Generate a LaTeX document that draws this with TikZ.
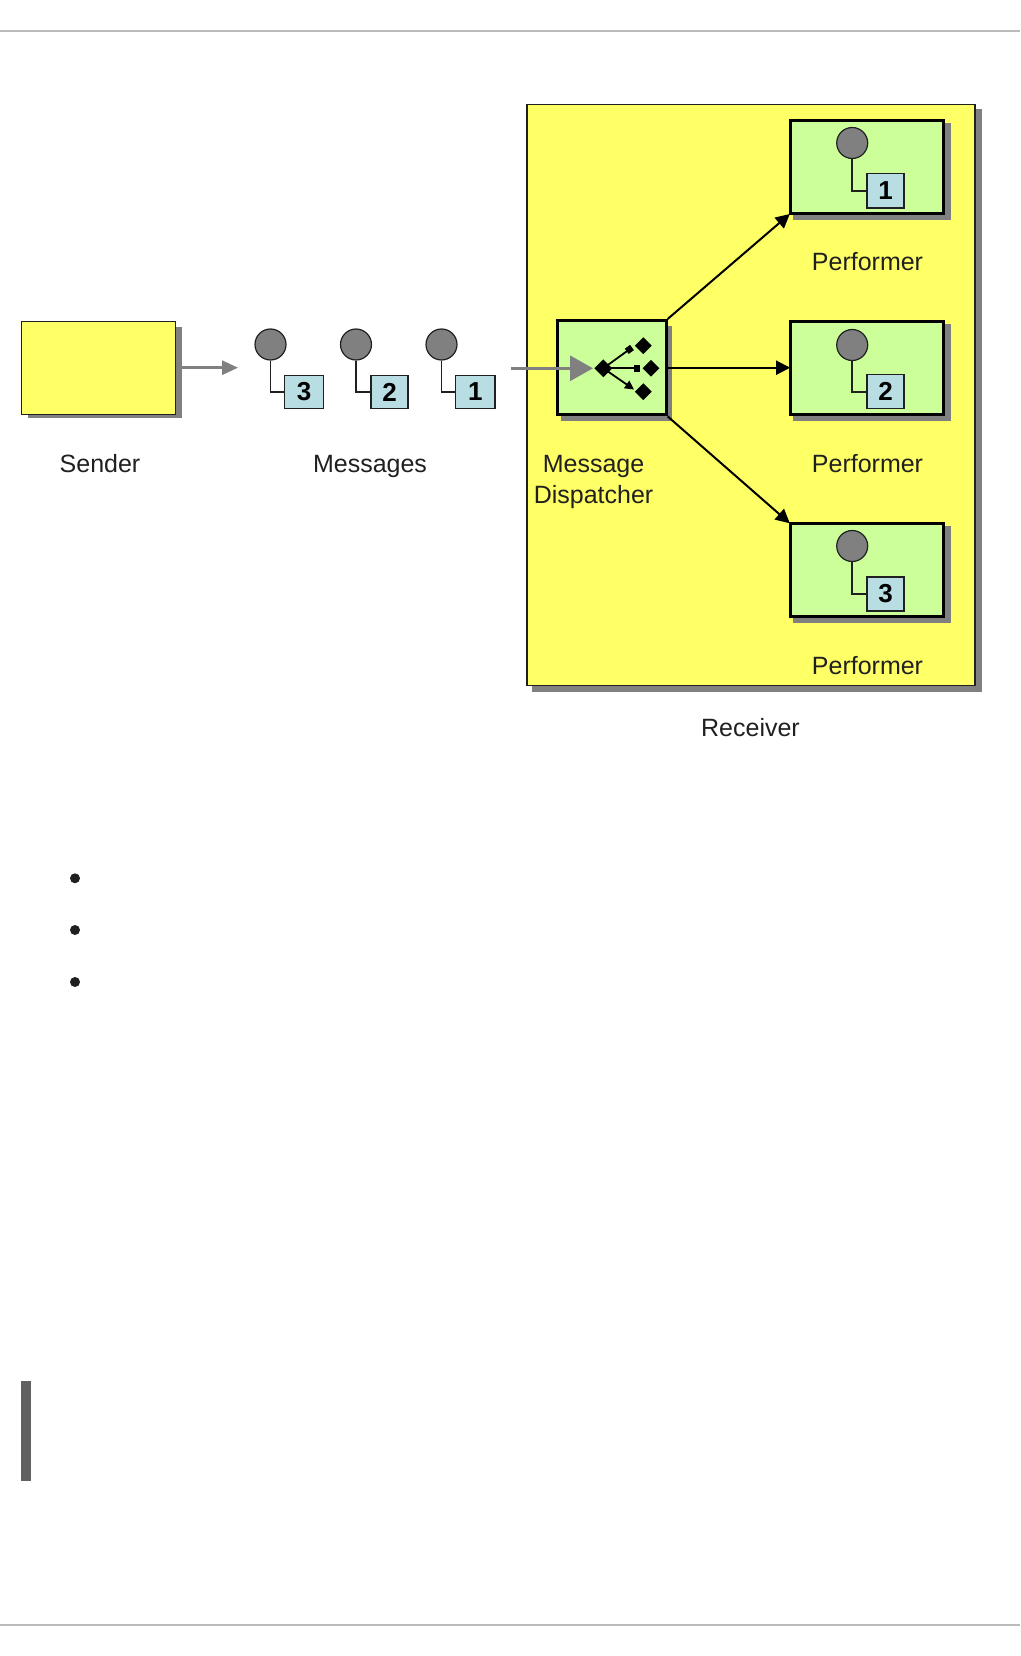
\documentclass[tikz,border=0pt]{standalone}
\usepackage{fontspec}
\setmainfont{Liberation Sans}
\usetikzlibrary{arrows.meta,shapes.geometric}
\definecolor{yel}{HTML}{FFFF66}
\definecolor{grn}{HTML}{CCFF99}
\definecolor{tag}{HTML}{B8DDE2}
\definecolor{shad}{HTML}{808080}
\definecolor{ink}{HTML}{202020}
\definecolor{rulegray}{HTML}{BBBBBB}
\definecolor{barcol}{HTML}{606060}
\tikzset{
  lab/.style={font=\fontsize{25}{30.6}\selectfont,text=ink,inner sep=0pt,align=center},
  shadowbox/.style={fill=shad,draw=none},
  msgcirc/.style={circle,draw=ink,line width=1.2pt,fill=shad,minimum size=31pt,inner sep=0pt},
  msgtag/.style={draw=ink,line width=1.4pt,fill=tag,inner sep=0pt,font=\fontsize{26}{26}\selectfont\bfseries,text=black},
  msgwire/.style={draw=ink,line width=1.7pt},
  flow/.style={draw=black,line width=2pt,shorten >=-1.5pt,-{Triangle[length=14pt,width=14pt]}},
  grayflow/.style={draw=shad,line width=3pt},
  dia/.style={diamond,fill=black,inner sep=0pt},
  rule/.style={draw=rulegray,line width=2pt},
}
\begin{document}
\begin{tikzpicture}[x=1pt,y=-1pt]
\useasboundingbox (0,0) rectangle (1020,1656);
\fill[white] (0,0) rectangle (1020,1656);
% page rules
\coordinate (tl) at (0,31); \coordinate (tr) at (1020,31);
\coordinate (bl) at (0,1624.7); \coordinate (br) at (1020,1624.7);
\draw[rule] (tl) -- (tr);
\draw[rule] (bl) -- (br);
% sender
\fill[shadowbox] (28,327) rectangle (182,418);
\node[draw=ink,line width=1.8pt,fill=yel,minimum width=154pt,minimum height=93pt,inner sep=0pt] (sender) at (98.5,368) {};
\node[lab,anchor=base] (senderlab) at (100,472.7) {Sender};
% messages
\foreach \n/\cx/\bl/\br/\t in {a/270.5/284.5/323.5/3,b/356/371/408/2,c/441.5/455.5/495/1}{
  \node[msgcirc] (c\n) at (\cx,344.5) {};
  \node[msgtag,minimum width=\br pt-\bl pt,minimum height=33.5pt] (t\n) at ({(\bl+\br)/2},392) {\t};
  \draw[msgwire] (c\n.south) |- (t\n.west);
}
\node[lab,anchor=base] (msglab) at (370,472.7) {Messages};
% receiver
\fill[shadowbox] (532,109) rectangle (982,692);
\node[draw=ink,line width=1.8pt,fill=yel,minimum width=448pt,minimum height=581pt,inner sep=0pt] (recv) at (751,395) {};
\node[lab,anchor=base] (recvlab) at (750.5,736) {Receiver};
% performers
\foreach \t/\cy/\cc/\tc/\ly in {1/167/143/190.8/270.7,2/367.7/345/391.7/472.7,3/570.3/546/594/674.3}{
  \fill[shadowbox] (793,{\cy-44}) rectangle (951,{\cy+53});
  \node[draw=black,line width=3pt,fill=grn,minimum width=153.3pt,minimum height=93pt,inner sep=0pt] (p\t) at (866.8,\cy) {};
  \node[msgcirc] (pc\t) at (852.2,\cc) {};
  \node[msgtag,minimum width=37pt,minimum height=34pt] (pt\t) at (885.6,\tc) {\t};
  \draw[msgwire] (pc\t.south) |- (pt\t.west);
  \node[lab,anchor=base] (pl\t) at (867.5,\ly) {Performer};
}
% dispatcher
\fill[shadowbox] (561,326) rectangle (672,420.5);
\node[draw=black,line width=3pt,fill=grn,minimum width=108.7pt,minimum height=94.4pt,inner sep=0pt] (disp) at (611.8,367.7) {};
\node[lab] (displab) at (593.5,482) {Message\\Dispatcher};
% dispatcher icon
\node[dia,minimum size=18pt] (d0) at (603.3,368.3) {};
\node[dia,minimum size=17pt] (d1) at (643.3,345.7) {};
\node[dia,minimum size=17pt] (d2) at (651,368.3) {};
\node[dia,minimum size=17pt] (d3) at (643.3,391.7) {};
\coordinate (e1) at (632,347.5);
\coordinate (e2) at (640,368.3);
\coordinate (e3) at (634,389.5);
\draw[draw=black,line width=1.8pt,-{Square[length=6.5pt,width=6.5pt]}] (d0.center) -- (e1);
\draw[draw=black,line width=1.8pt,-{Square[length=6.5pt,width=6.5pt]}] (d0.center) -- (e2);
\draw[draw=black,line width=1.8pt,-{Triangle[length=9pt,width=9pt]}] (d0.center) -- (e3);
% flows
\coordinate (sendout) at (182,367.7);
\coordinate (msgin) at (238,367.7);
\draw[grayflow,-{Triangle[length=16pt,width=14pt]}] (sendout) -- (msgin);
\coordinate (rin) at (511,368.3);
\coordinate (rhead) at (593,368.3);
\draw[grayflow,-{Triangle[length=23pt,width=25pt]}] (rin) -- (rhead);
\draw[flow] (disp.north east) -- (p1.south west);
\draw[flow] (disp.east) -- (p2.west);
\draw[flow] (disp.south east) -- (p3.north west);
% bullets
\foreach \n/\y in {1/878.3,2/930,3/982}{
  \node[circle,fill=ink,minimum size=10pt,inner sep=0pt] (b\n) at (75,\y) {};
}
% note bar
\fill[barcol] (21,1381) rectangle (31,1481);
\end{tikzpicture}
\end{document}
